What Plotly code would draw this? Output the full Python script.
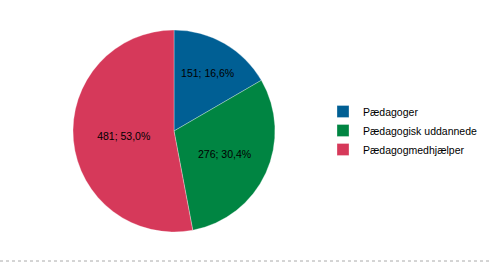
import plotly.graph_objects as go

categories = ["Pædagoger", "Pædagogisk uddannede", "Pædagogmedhjælper"]
values = [151, 276, 481]
colors = ["#005F94", "#008542", "#D6395A"]

FONT = "Liberation Sans, Arial, sans-serif"

fig = go.Figure(go.Pie(
    labels=categories,
    values=values,
    sort=False,
    direction="clockwise",
    rotation=0,
    marker=dict(colors=colors, line=dict(color="rgba(255,255,255,0.6)", width=0.5)),
    texttemplate="%{value}; %{percent:.1%}",
    textposition="inside",
    insidetextorientation="horizontal",
    textfont=dict(family=FONT, size=10.5, color="black"),
    domain=dict(x=[73/491, 275/491], y=[32/264, 234/264]),
    hoverinfo="label+value+percent",
))

fig.update_layout(
    width=491, height=264,
    margin=dict(l=0, r=0, t=0, b=0, autoexpand=False),
    paper_bgcolor="white",
    plot_bgcolor="white",
    separators=",.",
    showlegend=True,
    legend=dict(
        xref="container", yref="container",
        x=323/491, y=1-97/264, xanchor="left", yanchor="top",
        font=dict(family=FONT, size=10.5, color="black"),
        itemwidth=30,
        bgcolor="rgba(0,0,0,0)",
    ),
    shapes=[dict(type="line", xref="paper", yref="paper", x0=0, x1=1,
                 y0=3/264, y1=3/264, line=dict(color="#AAAAAA", width=1, dash="dot"))],
)

fig.write_html("out.html")
